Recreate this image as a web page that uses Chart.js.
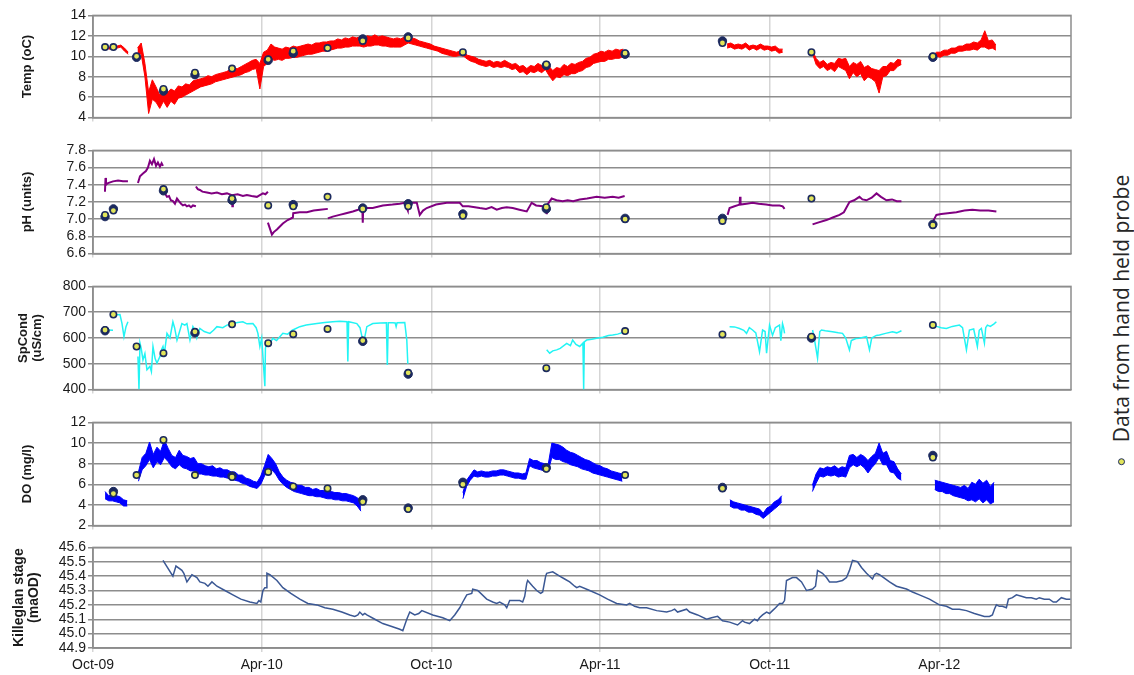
<!DOCTYPE html>
<html>
<head>
<meta charset="utf-8">
<script src="https://cdn.jsdelivr.net/npm/chart.js@4.4.1/dist/chart.umd.min.js"></script>
<style>
  html, body { margin: 0; padding: 0; background: #fff; }
  body { width: 1134px; height: 675px; position: relative; overflow: hidden; }
  canvas.panel { position: absolute; left: 0; }
  #key {
    position: absolute; left: 1121px; top: 320px;
    transform: translate(-50%, -50%) rotate(-90deg);
    white-space: nowrap; display: flex; align-items: center;
    font-family: "Open Sans", "Noto Sans", sans-serif; font-size: 21px; color: #262626;
  }
  #key .dot {
    display: inline-block; width: 5px; height: 5px; border-radius: 50%;
    background: #e2e55a; border: 1.5px solid #1c2a5e; margin-right: 16px;
  }
</style>
</head>
<body>
<canvas id="cTemp" class="panel"></canvas>
<canvas id="cPh" class="panel"></canvas>
<canvas id="cCond" class="panel"></canvas>
<canvas id="cDo" class="panel"></canvas>
<canvas id="cStage" class="panel"></canvas>
<div id="key"><span class="dot"></span><span>Data from hand held probe</span></div>

<script>
// Time axis: days since 1 Oct 2009
const tickDays   = [0, 182, 365, 547, 730, 913];
const tickLabels = ['Oct-09', 'Apr-10', 'Oct-10', 'Apr-11', 'Oct-11', 'Apr-12'];
const dayMax = 1055;

// Value-axis ticks for each panel
const tempTicks  = [4, 6, 8, 10, 12, 14];
const phTicks    = [6.6, 6.8, 7.0, 7.2, 7.4, 7.6, 7.8];
const condTicks  = [400, 500, 600, 700, 800];
const doTicks    = [2, 4, 6, 8, 10, 12];
const stageTicks = [44.9, 45.0, 45.1, 45.2, 45.3, 45.4, 45.5, 45.6];

// Logger temperature (oC): max / min over each 4-day window, runs starting on tempStarts
const tempStep = 4;
const tempStarts = [14, 48, 684, 776, 906];
const tempHigh = [
  [11.0, 10.9, 11.0, 11.0, 11.1, 10.8, 10.4],
  [10.8, 11.3, 9.3, 6.5, 7.7, 7.0, 6.2, 7.0, 6.4, 6.8,
   6.6, 7.1, 7.0, 7.3, 7.2, 7.6, 7.7, 7.8, 7.9, 8.1,
   8.0, 8.2, 8.3, 8.4, 8.5, 8.7, 8.8, 8.8, 9.0, 9.2,
   9.4, 9.6, 9.7, 9.3, 10.4, 10.6, 11.2, 10.9, 10.8, 10.7,
   10.9, 10.8, 11.0, 10.9, 11.0, 11.1, 11.2, 11.1, 11.3, 11.3,
   11.4, 11.4, 11.5, 11.5, 11.7, 11.6, 11.8, 11.7, 11.9, 11.8,
   11.9, 11.8, 12.0, 11.9, 12.1, 11.9, 12.0, 11.9, 11.8, 11.7,
   11.8, 11.7, 11.9, 12.0, 11.8, 11.7, 11.5, 11.4, 11.3, 11.2,
   11.0, 10.9, 10.8, 10.7, 10.6, 10.5, 10.4, 10.5, 10.4, 10.1,
   10.0, 9.9, 9.7, 9.6, 9.5, 9.6, 9.4, 9.5, 9.4, 9.6,
   9.4, 9.2, 9.3, 9.0, 9.1, 8.8, 9.1, 9.0, 9.3, 9.1,
   9.4, 9.0, 8.6, 8.9, 8.8, 9.2, 9.0, 9.3, 9.2, 9.4,
   9.5, 9.8, 9.9, 10.2, 10.3, 10.5, 10.4, 10.6, 10.5, 10.7,
   10.6, 10.7],
  [11.2, 11.3, 11.1, 11.2, 11.1, 11.3, 11.0, 11.1, 11.0, 11.2, 11.0, 11.0, 10.9, 11.0, 10.7, 10.7],
  [10.6, 9.8, 9.4, 9.6, 9.2, 9.4, 9.3, 9.8, 9.7, 9.8, 9.0, 9.4, 9.2, 9.5, 8.9, 9.1, 8.8, 8.7, 8.6, 9.0,
   9.0, 9.4, 9.3, 9.7, 9.6],
  [10.1, 10.4, 10.4, 10.6, 10.6, 10.8, 10.8, 11.0, 11.0, 11.2, 11.2, 11.4, 11.3, 11.6, 12.5, 11.5, 11.6, 11.1]
];
const tempLow = [
  [10.8, 10.7, 10.8, 10.8, 10.9, 10.5, 10.2],
  [10.3, 10.2, 8.0, 4.4, 5.8, 5.5, 4.9, 5.6, 5.0, 5.6,
   5.3, 5.9, 6.0, 6.2, 6.4, 6.6, 6.8, 7.0, 7.1, 7.2,
   7.3, 7.5, 7.6, 7.7, 7.8, 7.9, 8.0, 8.1, 8.2, 8.4,
   8.5, 8.7, 8.8, 6.8, 9.0, 9.3, 9.7, 9.6, 9.7, 9.6,
   9.8, 9.8, 9.9, 9.9, 10.0, 10.1, 10.2, 10.2, 10.3, 10.4,
   10.5, 10.5, 10.6, 10.7, 10.8, 10.8, 10.9, 10.9, 11.0, 11.0,
   11.0, 10.9, 11.0, 11.0, 11.1, 11.1, 11.0, 11.0, 10.9, 10.9,
   10.9, 10.9, 11.1, 11.3, 11.2, 11.1, 11.0, 10.9, 10.8, 10.7,
   10.6, 10.5, 10.3, 10.2, 10.1, 10.0, 10.0, 10.1, 10.0, 9.7,
   9.5, 9.4, 9.2, 9.1, 9.0, 9.1, 8.9, 9.0, 8.9, 9.0,
   8.9, 8.7, 8.8, 8.4, 8.5, 8.2, 8.5, 8.4, 8.6, 8.4,
   8.7, 8.1, 7.6, 8.0, 7.9, 8.2, 8.1, 8.3, 8.3, 8.5,
   8.6, 8.9, 9.0, 9.3, 9.4, 9.5, 9.5, 9.7, 9.7, 9.8,
   9.8, 10.0],
  [10.8, 10.9, 10.7, 10.8, 10.7, 10.9, 10.6, 10.8, 10.6, 10.8, 10.6, 10.7, 10.5, 10.6, 10.3, 10.4],
  [10.3, 9.2, 8.8, 9.0, 8.6, 8.8, 8.5, 9.0, 8.8, 8.6, 7.8, 8.4, 8.0, 8.3, 7.6, 8.0, 7.8, 7.5, 6.4, 8.0,
   8.1, 8.6, 8.6, 9.0, 9.2],
  [9.8, 10.0, 9.9, 10.1, 10.1, 10.3, 10.3, 10.5, 10.5, 10.6, 10.6, 10.7, 10.6, 10.9, 10.9, 10.7, 10.8, 10.6]
];

// Dissolved oxygen (mg/l): max / min over each 4-day window
const doStep = 4;
const doStarts = [13, 49, 399, 687, 776, 908];
const doHigh = [
  [5.3, 4.9, 5.0, 4.9, 4.8, 4.5, 4.4],
  [7.2, 8.6, 9.0, 10.1, 8.9, 9.6, 9.2, 10.3, 9.5, 8.8,
   8.6, 9.3, 8.8, 8.7, 8.5, 8.6, 8.0, 8.0, 7.8, 7.7,
   7.8, 7.5, 7.6, 7.4, 7.4, 7.2, 7.2, 6.9, 6.9, 6.6,
   6.5, 6.3, 6.2, 6.8, 7.8, 8.9, 8.5, 8.0, 7.2, 6.7,
   6.4, 6.2, 6.1, 5.9, 5.9, 5.7, 5.7, 5.5, 5.6, 5.4,
   5.4, 5.3, 5.3, 5.2, 5.2, 5.1, 5.1, 5.0, 4.9, 4.7,
   4.4],
  [5.2, 6.4, 6.9, 7.4, 7.2, 7.3, 7.2, 7.2, 7.3, 7.3,
   7.4, 7.4, 7.3, 7.2, 7.1, 7.1, 7.0, 7.1, 8.5, 8.3,
   8.3, 8.1, 8.0, 7.9, 10.0, 9.9, 9.8, 9.6, 9.3, 9.1,
   9.0, 8.8, 8.6, 8.4, 8.3, 8.1, 7.9, 7.8, 7.6, 7.5,
   7.3, 7.2, 7.1, 7.0],
  [4.5, 4.3, 4.2, 4.1, 4.0, 3.9, 3.8, 3.7, 3.6, 3.2, 3.7, 3.9, 4.3, 4.5, 4.9],
  [5.9, 7.0, 7.6, 7.5, 7.7, 7.6, 7.8, 7.5, 7.7, 7.6, 8.8, 8.9, 8.6, 8.9, 8.7, 8.3, 8.7, 9.0, 10.0, 9.0,
   9.2, 8.3, 8.2, 7.5, 7.0],
  [6.4, 6.3, 6.2, 6.1, 6.0, 5.9, 5.8, 5.7, 5.9, 5.6, 6.2, 6.0, 6.5, 6.1, 6.4, 5.8, 6.2]
];
const doLow = [
  [4.6, 4.4, 4.4, 4.3, 4.2, 3.9, 3.9],
  [6.3, 7.4, 7.8, 8.4, 7.6, 8.2, 7.9, 8.6, 8.2, 7.7,
   7.5, 7.9, 7.6, 7.5, 7.3, 7.3, 7.0, 7.0, 6.9, 6.9,
   6.8, 6.8, 6.7, 6.7, 6.6, 6.5, 6.4, 6.3, 6.1, 6.0,
   5.8, 5.7, 5.6, 6.0, 6.8, 7.6, 7.4, 7.0, 6.4, 6.0,
   5.7, 5.5, 5.3, 5.2, 5.1, 5.0, 4.9, 4.9, 4.8, 4.8,
   4.7, 4.6, 4.6, 4.5, 4.5, 4.4, 4.4, 4.3, 4.2, 3.9,
   3.4],
  [4.6, 5.8, 6.4, 6.8, 6.7, 6.8, 6.7, 6.7, 6.8, 6.8,
   6.9, 6.9, 6.8, 6.7, 6.6, 6.6, 6.5, 6.5, 7.8, 7.6,
   7.5, 7.4, 7.3, 7.3, 8.6, 8.4, 8.4, 8.2, 8.1, 7.9,
   7.8, 7.7, 7.5, 7.4, 7.3, 7.1, 7.0, 6.9, 6.8, 6.7,
   6.6, 6.5, 6.4, 6.3],
  [3.9, 3.7, 3.7, 3.5, 3.5, 3.3, 3.3, 3.1, 3.0, 2.7, 3.0, 3.3, 3.6, 3.9, 4.3],
  [5.3, 6.1, 6.8, 6.7, 6.9, 6.8, 6.9, 6.7, 6.8, 6.7, 7.6, 7.9, 7.7, 7.9, 7.6, 7.1, 7.6, 8.0, 8.6, 7.9,
   7.9, 7.2, 7.1, 6.6, 6.4],
  [5.5, 5.3, 5.3, 5.1, 5.1, 4.9, 4.8, 4.7, 4.6, 4.4, 4.5, 4.3, 4.6, 4.2, 4.5, 4.1, 4.3]
];

// pH (units): [day, value]; null marks a break in the record
const phReadings = [
  [12.9, 7.32], [13.5, 7.48], [14, 7.40], [16.2, 7.42], [21.6, 7.44], [27, 7.45], [32.3, 7.44], [37.7, 7.44],
  null,
  [48.5, 7.42], [50.7, 7.50], [53.9, 7.53], [57.1, 7.56], [59.3, 7.60], [61.4, 7.68], [63.6, 7.64], [65.8, 7.70],
  [68, 7.62], [70, 7.66], [72.2, 7.61], [74, 7.65], [75.5, 7.62],
  null,
  [75.5, 7.38], [77.6, 7.30], [79.8, 7.26], [82, 7.27], [84, 7.22], [86.2, 7.21], [88.4, 7.18], [90.6, 7.24],
  [92.7, 7.21], [95, 7.18], [97, 7.16], [99.2, 7.17], [101.3, 7.15], [103.5, 7.16], [105.7, 7.14], [107.8, 7.16], [111, 7.15],
  null,
  [111, 7.38], [113, 7.35], [115.3, 7.34], [118, 7.32], [122.9, 7.31], [128, 7.30], [133.7, 7.31], [139, 7.29],
  [144.5, 7.30], [149.8, 7.28], [150.3, 7.15], [150.9, 7.28], [156, 7.29], [161.7, 7.27], [166, 7.28], [171, 7.27],
  [176.8, 7.26], [180, 7.28], [183.3, 7.30], [186, 7.29], [188.7, 7.32],
  null,
  [188.7, 6.96], [193, 6.82], [195, 6.85], [198.4, 6.88], [204.8, 6.95], [210, 6.99], [215.6, 7.02], [216, 7.07],
  [223, 7.08], [230.7, 7.08], [238, 7.10], [245, 7.11], [253.3, 7.12],
  null,
  [253.3, 7.01], [258.7, 7.03], [266, 7.05], [273, 7.07], [280.3, 7.09], [286, 7.11], [290.5, 7.13], [291, 6.96],
  [291.5, 7.13], [301.8, 7.13], [312.6, 7.16], [323, 7.17], [330.9, 7.18], [336, 7.19], [339.6, 7.10], [340, 7.20],
  [345, 7.19], [349.3, 7.19], [352.5, 7.05], [356, 7.10], [360, 7.13], [370, 7.17], [381.6, 7.19], [390, 7.19],
  [395.6, 7.19], [398.9, 7.15], [405, 7.15], [412, 7.14], [417.2, 7.13], [424, 7.12], [430, 7.14], [435.5, 7.11],
  [441, 7.13], [446.3, 7.14], [452.8, 7.13], [460, 7.11], [467.9, 7.09], [473.2, 7.19], [478, 7.16], [485.1, 7.15],
  [489.2, 7.07], [489.6, 7.16], [494.8, 7.24], [500, 7.22], [506.7, 7.21], [512, 7.22], [518, 7.21], [525, 7.23],
  [533, 7.24], [543.3, 7.26], [552, 7.25], [560.6, 7.26], [567, 7.25], [573.5, 7.27],
  null,
  [684.5, 7.05], [686.7, 7.13], [692, 7.15], [697.5, 7.17], [698, 7.26], [698.5, 7.17], [705, 7.18], [711.5, 7.19],
  [718, 7.18], [726, 7.17], [733, 7.16], [740.6, 7.16], [744, 7.15], [746, 7.12],
  null,
  [776.2, 6.94], [782, 6.96], [791.2, 6.99], [798, 7.02], [805.3, 7.05], [810, 7.08], [816, 7.20], [821, 7.22],
  [826.8, 7.26], [830, 7.23], [834.4, 7.22], [840, 7.25], [845.2, 7.30], [850, 7.26], [855.9, 7.22], [862, 7.23],
  [867, 7.21], [872.1, 7.21],
  null,
  [905.5, 6.96], [909.8, 7.05], [915, 7.06], [922, 7.07], [931.4, 7.08], [940, 7.10], [948.6, 7.11], [957, 7.10],
  [966, 7.10], [974.5, 7.09]
];

// Specific conductance (uS/cm): [day, value]
const condReadings = [
  [16.2, 631], [21.6, 630],
  null,
  [23.7, 695], [26, 690], [29.1, 691], [31.3, 656], [33.4, 605], [34.5, 625], [35.6, 644], [37.7, 663],
  null,
  [48.5, 528], [49.6, 400], [50.7, 580], [52, 560], [53.9, 515], [56, 540], [58.2, 477], [61.4, 490],
  [63, 470], [64.7, 567], [67, 520], [69, 503], [72.2, 528], [74, 555], [75.5, 567], [77, 540],
  [79.8, 618], [83, 600], [86.2, 663], [88, 640], [90.6, 592], [93, 620], [95.9, 656], [99, 650],
  [101.3, 656], [104.6, 592], [107.8, 644], [110, 630], [112, 600], [115.3, 637], [120, 625], [126.1, 618],
  [130, 630], [133.7, 644], [140, 640], [144.5, 650], [150.9, 656], [156, 660], [161.7, 663], [166, 655],
  [172.5, 656], [176, 640], [177.9, 618], [180, 567], [182, 600], [185.4, 413], [186, 560], [187.6, 583],
  [190, 575], [194, 599], [198, 590], [204.8, 618], [210, 615], [215, 630], [223.1, 644], [230, 650],
  [241.5, 656], [250, 660], [258.7, 663], [266, 665], [274, 663], [274.9, 509], [275.8, 663], [284.6, 656],
  [288, 640], [291, 592], [293, 600], [295.4, 644], [301.8, 656], [310, 658], [316.5, 659], [317.5, 495],
  [318.5, 659], [323.4, 659], [326, 658], [327, 644], [328, 659], [336.3, 660], [338.5, 592], [339.6, 500],
  null,
  [489.4, 554], [492.6, 541], [496, 550], [500.2, 554], [504, 560], [511, 579], [515, 570], [517.4, 592],
  [521, 575], [525, 567], [528.5, 580], [529.3, 400], [530, 585], [532.5, 592], [538, 595], [543.3, 599],
  [550, 603], [556, 610], [560.6, 612], [566, 615], [570, 620], [573.5, 624],
  null,
  [686.7, 644], [692, 643], [697.5, 637], [702, 630], [705, 618], [708, 640], [711.5, 631], [715, 620],
  [719, 547], [722.3, 631], [725, 625], [726.6, 541], [729.8, 650], [733, 610], [736, 640], [740.6, 650],
  [742, 590], [743.8, 656], [745, 640], [746, 618],
  null,
  [776.2, 631], [778, 600], [781.6, 522], [784, 625], [785.9, 631], [790, 628], [797.7, 624], [804, 620],
  [808.5, 618], [812, 600], [816, 554], [818, 590], [819.3, 592], [823, 598], [826.8, 599], [831, 603],
  [834.4, 605], [837.6, 554], [840, 600], [845, 610], [848.4, 612], [855, 618], [862.4, 624], [867, 620], [872.1, 628],
  null,
  [905.5, 650], [910, 645], [915, 640], [920.6, 637], [927, 645], [934.6, 650], [938, 640], [942.2, 554],
  [945.4, 631], [950, 635], [954, 567], [956, 630], [958.3, 637], [961.6, 580], [963, 640], [964.8, 650],
  [968, 645], [972, 655], [974.5, 663]
];

// Killeglan stage (maOD): [day, value]
const stageReadings = [
  [75.5, 45.51], [86.2, 45.40], [89.5, 45.47], [95.9, 45.44], [98, 45.42], [101.3, 45.36], [106.7, 45.41], [112.1, 45.39],
  [115.3, 45.36], [120.7, 45.35], [124, 45.33], [128.3, 45.36], [133.7, 45.33], [142.3, 45.30], [150.9, 45.27], [159.5, 45.24],
  [169.2, 45.22], [176.8, 45.21], [179, 45.23], [181, 45.22], [183.3, 45.30], [185.4, 45.32], [187, 45.32], [187.6, 45.42],
  [190.8, 45.41], [198.4, 45.37], [204.8, 45.32], [213.4, 45.28], [223.1, 45.24], [231.8, 45.21], [241.5, 45.20], [250.1, 45.18],
  [258.7, 45.17], [268.4, 45.15], [277, 45.13], [282.4, 45.12], [285.7, 45.13], [287.8, 45.15], [291, 45.13], [293.2, 45.14],
  [295.4, 45.13], [304, 45.10], [312.6, 45.07], [322.3, 45.05], [330.9, 45.03], [334.2, 45.02], [338.5, 45.10], [341.7, 45.15],
  [347.1, 45.13], [351.4, 45.14], [354.7, 45.16], [366.5, 45.13], [377.3, 45.11], [384.8, 45.09], [390.2, 45.13], [395.6, 45.18],
  [398.9, 45.22], [403.2, 45.27], [408.6, 45.28], [409.6, 45.31], [415, 45.30], [424.7, 45.24], [431.2, 45.22], [435.5, 45.21],
  [438.7, 45.22], [444.1, 45.20], [446.3, 45.18], [449.5, 45.23], [460.3, 45.23], [463.5, 45.22], [465.7, 45.26], [467.9, 45.35],
  [468.9, 45.37], [474.3, 45.33], [478.6, 45.30], [482.9, 45.28], [485.1, 45.29], [488.3, 45.40], [489.4, 45.42], [495.9, 45.43],
  [503.4, 45.40], [508.8, 45.38], [514.2, 45.36], [519.6, 45.33], [521.8, 45.32], [525, 45.33], [535.8, 45.30], [546.5, 45.27],
  [555.1, 45.24], [564.9, 45.21], [575.7, 45.20], [578.9, 45.21], [584.3, 45.19], [589.7, 45.18], [597.2, 45.18], [608, 45.16],
  [618.8, 45.15], [624.2, 45.16], [627.4, 45.17], [630.6, 45.15], [640.3, 45.17], [643.6, 45.15], [652.2, 45.13], [661.9, 45.10],
  [667.3, 45.11], [673.8, 45.12], [679.1, 45.09], [686.7, 45.08], [695.3, 45.06], [700.7, 45.09], [702.8, 45.08], [708.2, 45.07],
  [713.6, 45.10], [716.8, 45.09], [719, 45.11], [722.3, 45.13], [726.6, 45.15], [729.8, 45.14], [733, 45.16], [736.3, 45.18],
  [740.6, 45.21], [743.8, 45.21], [746, 45.23], [748.1, 45.37], [754.6, 45.39], [758.9, 45.39], [764.3, 45.36], [769.7, 45.30],
  [776.2, 45.31], [779.4, 45.33], [781.6, 45.44], [786.9, 45.42], [791.2, 45.39], [794.5, 45.36], [802, 45.36], [808.5, 45.37],
  [812.8, 45.39], [816, 45.44], [819.3, 45.51], [824.7, 45.50], [829, 45.46], [834.4, 45.42], [840.9, 45.38], [843, 45.41],
  [845.2, 45.42], [848.4, 45.41], [859.2, 45.36], [866.7, 45.33], [877.5, 45.31], [884, 45.29], [891.5, 45.27], [902.3, 45.24],
  [913, 45.20], [920.6, 45.19], [927.1, 45.17], [934.6, 45.17], [942.2, 45.16], [950.8, 45.14], [956.2, 45.13], [961.6, 45.12],
  [967, 45.12], [970.2, 45.13], [972.4, 45.17], [974.5, 45.20], [977.7, 45.19], [981, 45.19], [985.3, 45.18], [987.5, 45.24],
  [991.8, 45.25], [996.1, 45.27], [1001.5, 45.26], [1006.8, 45.25], [1012.2, 45.25], [1017.6, 45.24], [1020.8, 45.25], [1026.2, 45.24],
  [1031.6, 45.24], [1035.9, 45.22], [1039.2, 45.22], [1044.6, 45.25], [1050, 45.24], [1054.3, 45.24]
];

// Hand-held probe visits (day) and the readings taken; second readings where a visit logged two
const probeDays  = [13, 22, 47, 76, 110, 150, 189, 216, 253, 291, 340, 399, 489, 574, 679, 775, 906];
const tempProbe  = [10.9, 10.9, 10.0, 6.8, 8.4, 8.8, 9.7, 10.5, 10.8, 11.5, 11.8, 10.4, 9.2, 10.3, 11.3, 10.4, 10.0];
const tempProbe2 = [null, null, 9.9, 6.6, 8.2, null, 9.6, 10.3, null, 11.7, 11.9, null, 9.1, 10.2, 11.5, null, 9.9];
const phProbe    = [7.05, 7.10, null, 7.35, null, 7.24, 7.16, 7.15, 7.26, 7.12, 7.15, 7.04, 7.14, 7.00, 6.98, 7.24, 6.93];
const phProbe2   = [7.03, 7.12, null, 7.33, null, 7.22, null, 7.17, null, 7.13, 7.18, 7.06, 7.12, 7.01, 7.01, null, 6.94];
const condProbe  = [631, 691, 567, 541, 624, 653, 580, 615, 635, 590, 465, null, 483, 627, 614, 605, 650];
const condProbe2 = [628, null, null, null, 620, null, null, null, null, 587, 460, null, null, null, null, 600, null];
const doProbe    = [null, 5.1, 6.9, 10.3, 6.9, 6.7, 7.2, 5.8, 5.6, 4.3, 3.6, 6.0, 7.5, 6.9, 5.6, null, 8.6];
const doProbe2   = [null, 5.3, null, null, null, 6.8, null, null, null, 4.5, 3.7, 6.2, 7.6, null, 5.7, null, 8.8];

// ---- helpers turning the records into Chart.js points ----
function fromRuns(starts, step, runs) {
  const pts = [];
  runs.forEach((run, r) => {
    if (r > 0) pts.push({ x: starts[r], y: null });
    run.forEach((v, i) => pts.push({ x: starts[r] + i * step, y: v }));
  });
  return pts;
}
function fromPairs(list) {
  const pts = [];
  let lastX = 0;
  list.forEach(p => {
    if (p === null) { pts.push({ x: lastX, y: null }); return; }
    lastX = p[0];
    pts.push({ x: p[0], y: p[1] });
  });
  return pts;
}
function fromProbe(vals) {
  return probeDays.map((d, i) => ({ x: d, y: vals[i] }));
}

const NAVY = '#1c2a5e';
function probeSets(main, second) {
  return [
    { data: fromProbe(second), showLine: false, pointRadius: 4.2, pointBackgroundColor: NAVY,
      pointBorderColor: NAVY, pointBorderWidth: 1, order: 2 },
    { data: fromProbe(main), showLine: false, pointRadius: 3.2, pointBackgroundColor: '#e2e55a',
      pointBorderColor: NAVY, pointBorderWidth: 1.6, order: 1 }
  ];
}
function lineSet(data, color, width) {
  return { data, borderColor: color, borderWidth: width, pointRadius: 0, tension: 0,
           spanGaps: false, fill: false, order: 3 };
}
// a logger record drawn as the filled range between its window max and min
function bandSets(high, low, color) {
  return [
    { data: high, borderColor: color, backgroundColor: color, borderWidth: 1, pointRadius: 0,
      tension: 0, spanGaps: false, fill: '+1', order: 3 },
    { data: low, borderColor: color, borderWidth: 1, pointRadius: 0,
      tension: 0, spanGaps: false, fill: false, order: 4 }
  ];
}

const GRID_H = '#8d8d8d';
const GRID_V = '#d5d5d5';
const TXT = '#1a1a1a';
const FONT = '"Liberation Sans", Arial, sans-serif';
const PLOT_LEFT = 93, PLOT_RIGHT = 1071, CANVAS_W = 1085, PAD_T = 10;

const frame = {
  id: 'frame',
  beforeDatasetsDraw(chart) {
    const { ctx, chartArea: a } = chart;
    ctx.save();
    ctx.strokeStyle = GRID_H;
    ctx.lineWidth = 1.5;
    ctx.strokeRect(a.left, a.top, a.right - a.left, a.bottom - a.top);
    ctx.restore();
  }
};

function panel(id, top, bottom, yTicks, decimals, title, titleSize, titlePad, titleLH, datasets, showX) {
  const el = document.getElementById(id);
  const xH = showX ? 28 : 10;
  el.width = CANVAS_W;
  el.height = bottom - top + PAD_T + xH;
  el.style.top = (top - PAD_T) + 'px';
  return new Chart(el, {
    type: 'line',
    data: { datasets },
    options: {
      responsive: false,
      animation: false,
      events: [],
      layout: { padding: { top: PAD_T, right: CANVAS_W - PLOT_RIGHT, bottom: 0, left: 0 } },
      plugins: { legend: { display: false }, tooltip: { enabled: false }, filler: { propagate: false } },
      scales: {
        x: {
          type: 'linear', min: 0, max: dayMax,
          afterBuildTicks: s => { s.ticks = tickDays.map(v => ({ value: v })); },
          afterFit: s => { s.height = xH; },
          ticks: {
            display: showX, autoSkip: false, maxRotation: 0, padding: 5,
            callback: (v, i) => tickLabels[i],
            font: { family: FONT, size: 14 }, color: TXT
          },
          grid: { color: GRID_V, lineWidth: 1.5, tickLength: 4, tickColor: GRID_V },
          border: { color: GRID_H, width: 1.5 }
        },
        y: {
          min: yTicks[0], max: yTicks[yTicks.length - 1],
          afterBuildTicks: s => { s.ticks = yTicks.map(v => ({ value: v })); },
          afterFit: s => { s.width = PLOT_LEFT; },
          ticks: {
            autoSkip: false, padding: 2, callback: v => Number(v).toFixed(decimals),
            font: { family: FONT, size: 14 }, color: TXT
          },
          grid: { color: GRID_H, lineWidth: 1.5, tickLength: 5, tickColor: GRID_H },
          border: { color: GRID_H, width: 1.5 },
          title: {
            display: true, text: title, color: TXT,
            font: { family: FONT, size: titleSize, weight: 'bold', lineHeight: titleLH },
            padding: { top: titlePad, bottom: 0 }
          }
        }
      }
    },
    plugins: [frame]
  });
}

panel('cTemp', 15, 118, tempTicks, 0, 'Temp (oC)', 13, 20, 1.2,
  [...bandSets(fromRuns(tempStarts, tempStep, tempHigh), fromRuns(tempStarts, tempStep, tempLow), '#ff0000'),
   ...probeSets(tempProbe, tempProbe2)], false);

panel('cPh', 150, 254, phTicks, 1, 'pH (units)', 13, 20, 1.2,
  [lineSet(fromPairs(phReadings), '#800080', 2), ...probeSets(phProbe, phProbe2)], false);

panel('cCond', 286, 390, condTicks, 0, ['SpCond', '(uS/cm)'], 13, 16, 1.1,
  [lineSet(fromPairs(condReadings), '#22f4f4', 1.5), ...probeSets(condProbe, condProbe2)], false);

panel('cDo', 422, 526, doTicks, 0, 'DO (mg/l)', 13, 20, 1.2,
  [...bandSets(fromRuns(doStarts, doStep, doHigh), fromRuns(doStarts, doStep, doLow), '#0000ff'),
   ...probeSets(doProbe, doProbe2)], false);

panel('cStage', 547, 648, stageTicks, 1, ['Killeglan stage', '(maOD)'], 14, 11, 1.1,
  [lineSet(fromPairs(stageReadings), '#3b5894', 1.5)], true);
</script>
</body>
</html>
